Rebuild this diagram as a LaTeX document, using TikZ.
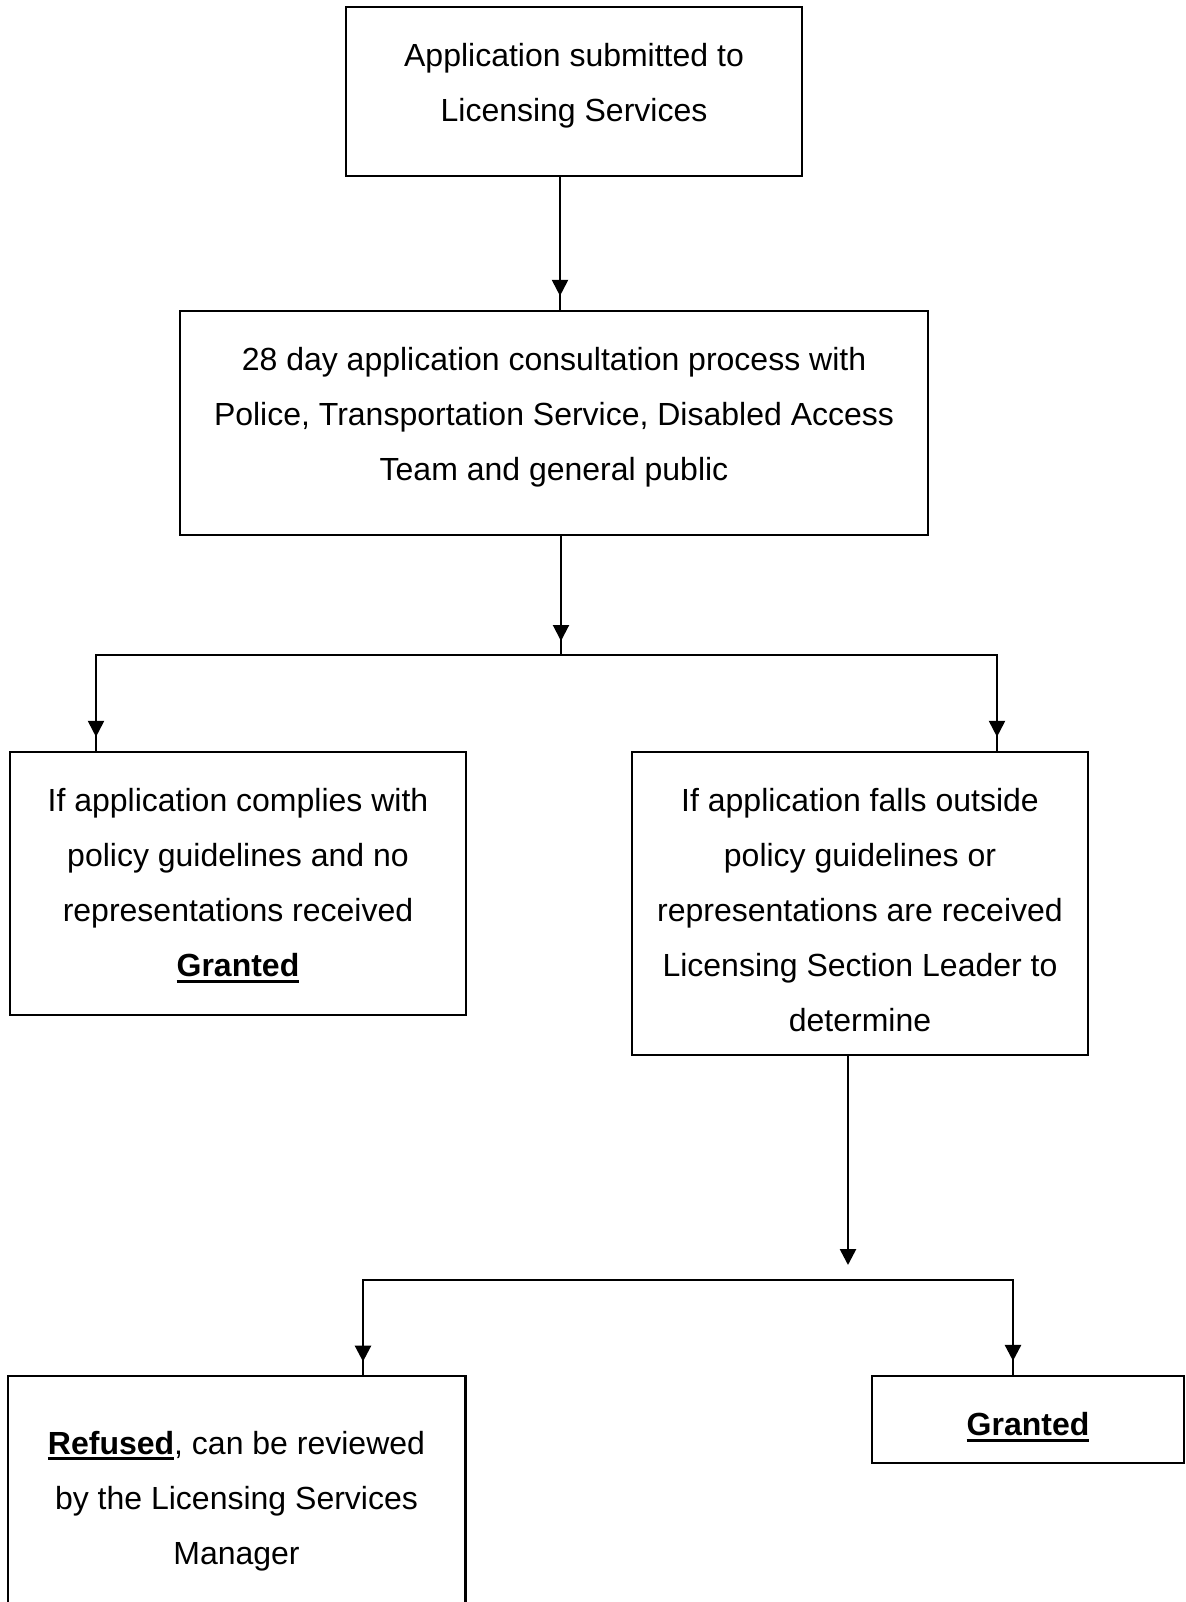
\documentclass[tikz,border=0pt]{standalone}
\usepackage{fontspec}
\setmainfont{Liberation Sans}
\usetikzlibrary{arrows.meta, calc, positioning}

\newcommand{\thickul}[1]{\setbox0\hbox{#1}\rlap{\rule[-3pt]{\wd0}{1.4pt}}\box0}

\tikzset{
  flowbox/.style={draw, line width=1.1pt, rectangle, inner sep=0pt},
  boxtext/.style={align=center, inner sep=0pt, anchor=north,
    font=\fontsize{16}{27.5}\selectfont},
  link/.style={line width=1pt},
  thicklink/.style={line width=1.3pt},
  flow/.style={-{Triangle[width=8pt, length=8pt]}}
}

\begin{document}
\begin{tikzpicture}[x=0.5pt, y=-0.5pt, line cap=butt, line join=miter]
    \useasboundingbox (0,0) rectangle (1186,1602);

    % boxes
    \node[flowbox, minimum width=228pt, minimum height=84.5pt] (b1) at (574,91.5) {};
    \node[flowbox, minimum width=374pt, minimum height=112pt] (b2) at (554,423) {};
    \node[flowbox, minimum width=228pt, minimum height=131.5pt] (b3) at (238,883.5) {};
    \node[flowbox, minimum width=228pt, minimum height=151.5pt] (b4) at (860,903.5) {};
    \node[rectangle, inner sep=0pt, minimum width=228.5pt, minimum height=120pt] (b5) at (236.5,1496) {};
    \node[flowbox, minimum width=156pt, minimum height=43.5pt] (b6) at (1028,1419.5) {};
    \draw[line width=1.1pt] ([yshift=-10pt]b5.south west) -- (b5.north west) -- (b5.north east) -- ([yshift=-10pt]b5.south east);

    % texts
    \node[boxtext, yshift=-18.5pt] (t1) at (b1.north) {Application submitted to\\Licensing Services};
    \node[boxtext, yshift=-18.5pt] (t2) at (b2.north) {28 day application consultation process with\\Police, Transportation Service, Disabled Access\\Team and general public};
    \node[boxtext, yshift=-18.5pt] (t3) at (b3.north) {If application complies with\\policy guidelines and no\\representations received\\\thickul{\textbf{Granted}}};
    \node[boxtext, yshift=-18.5pt] (t4) at (b4.north) {If application falls outside\\policy guidelines or\\representations are received\\Licensing Section Leader to\\determine};
    \node[boxtext, yshift=-27.5pt] (t5) at (b5.north) {\thickul{\textbf{Refused}}, can be reviewed\\by the Licensing Services\\Manager};
    \node[boxtext, yshift=-18.5pt] (t6) at (b6.north) {\thickul{\textbf{Granted}}};

    % connector positions
    \coordinate (x1) at (560,0);
    \coordinate (x2) at (561,0);
    \coordinate (x3) at (96,0);
    \coordinate (x4) at (997,0);
    \coordinate (x5) at (848,0);
    \coordinate (x6) at (363,0);
    \coordinate (x7) at (1013,0);
    \coordinate (j1) at (561,655);
    \coordinate (j2) at (848,1280);

    % first step
    \draw[link] (x1 |- b1.south) -- (x1 |- b2.north);
    \draw[link, flow] (x1 |- b1.south) -- ([yshift=7pt]x1 |- b2.north);

    % first split
    \draw[link] (x2 |- b2.south) -- (j1);
    \draw[link, flow] (x2 |- b2.south) -- ([yshift=7pt]j1);
    \draw[link] (x3 |- b3.north) -- (x3 |- j1) -- (x4 |- j1) -- (x4 |- b4.north);
    \draw[link, flow] (x3 |- j1) -- ([yshift=7pt]x3 |- b3.north);
    \draw[link, flow] (x4 |- j1) -- ([yshift=7pt]x4 |- b4.north);

    % second split
    \draw[thicklink, flow] (x5 |- b4.south) -- ([yshift=7.5pt]j2);
    \draw[thicklink] (x6 |- b5.north) -- (x6 |- j2) -- (x7 |- j2) -- (x7 |- b6.north);
    \draw[thicklink, flow] (x6 |- j2) -- ([yshift=7pt]x6 |- b5.north);
    \draw[thicklink, flow] (x7 |- j2) -- ([yshift=7pt]x7 |- b6.north);
\end{tikzpicture}
\end{document}
